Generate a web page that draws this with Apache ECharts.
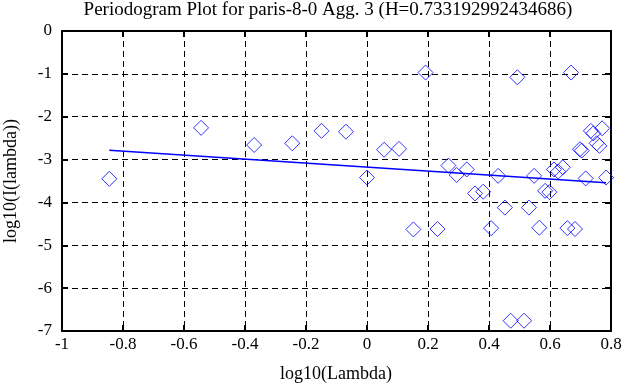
<!DOCTYPE html>
<html>
<head>
<meta charset="utf-8">
<script src="https://cdn.jsdelivr.net/npm/echarts@6/dist/echarts.min.js"></script>
<style>
html,body{margin:0;padding:0;background:#fff;}
#chart{width:638px;height:387px;}
</style>
</head>
<body>
<div id="chart"></div>
<script>
var titleText = 'Periodogram Plot for paris-8-0 Agg. 3 (H=0.733192992434686)';
var xName = 'log10(Lambda)';
var yName = 'log10(I(lambda))';

var pointX = [-0.845,-0.544,-0.370,-0.245,-0.149,-0.069,0.000,0.056,0.105,0.152,0.192,0.231,0.267,0.294,0.327,0.354,0.381,0.407,0.430,0.452,0.471,0.493,0.515,0.531,0.548,0.565,0.584,0.598,0.613,0.627,0.642,0.657,0.669,0.682,0.698,0.704,0.717,0.734,0.742,0.753,0.762,0.771,0.784];
var pointY = [-3.45,-2.26,-2.66,-2.62,-2.33,-2.35,-3.42,-2.77,-2.75,-4.63,-0.97,-4.62,-3.14,-3.36,-3.23,-3.79,-3.75,-4.60,-3.38,-4.12,-6.76,-1.08,-6.76,-4.12,-3.38,-4.59,-3.73,-3.76,-3.23,-3.28,-3.18,-4.60,-0.97,-4.62,-2.76,-2.79,-3.44,-2.33,-2.39,-2.62,-2.68,-2.27,-3.42];

var fitX = [-0.845, 0.784];
var fitY = [-2.78, -3.54];

var xMin = -1, xMax = 0.8, xStep = 0.2;
var yMin = -7, yMax = 0, yStep = 1;

var FONT = '"Liberation Serif","DejaVu Serif",serif';

var scatterData = pointX.map(function(x,i){return [x, pointY[i]];});
var lineData = fitX.map(function(x,i){return [x, fitY[i]];});

var chart = echarts.init(document.getElementById('chart'), null, {renderer:'canvas'});

function axisCommon(show){
  return {
    axisLine:{show:true, onZero:false, lineStyle:{color:'#000', width:2}},
    axisTick:{show:true, inside:true, length:6, lineStyle:{color:'#000', width:2}},
    axisLabel:{show:show, color:'#000', fontFamily:FONT, fontSize:17},
    splitLine:{show:false}
  };
}

var xBottom = Object.assign({type:'value', position:'bottom', min:xMin, max:xMax, interval:xStep}, axisCommon(true));
xBottom.axisLabel.margin = 5;
xBottom.axisLabel.formatter = function(v){ return Math.abs(v) < 1e-9 ? '0' : String(+v.toFixed(1)); };
xBottom.splitLine = {show:true, lineStyle:{color:'#000', type:[6,4], width:1}};
var xTop = Object.assign({type:'value', position:'top', min:xMin, max:xMax, interval:xStep}, axisCommon(false));

var yLeft = Object.assign({type:'value', position:'left', min:yMin, max:yMax, interval:yStep}, axisCommon(true));
yLeft.axisLabel.margin = 10;
yLeft.splitLine = {show:true, lineStyle:{color:'#000', type:[6,4], width:1}};
var yRight = Object.assign({type:'value', position:'right', min:yMin, max:yMax, interval:yStep}, axisCommon(false));

chart.setOption({
  backgroundColor:'#fff',
  animation:false,
  grid:{left:62, right:27, top:31, bottom:56, containLabel:false},
  xAxis:[xBottom, xTop],
  yAxis:[yLeft, yRight],
  graphic:[
    {type:'text', x:328, y:1, style:{text:titleText, fontFamily:FONT, fontSize:19, fill:'#000', align:'center', verticalAlign:'top'}},
    {type:'text', x:336, y:365, style:{text:xName, fontFamily:FONT, fontSize:18, fill:'#000', align:'center', verticalAlign:'top'}},
    {type:'text', x:2, y:181, rotation:Math.PI/2, style:{text:yName, fontFamily:FONT, fontSize:18, fill:'#000', align:'center', verticalAlign:'top'}}
  ],
  series:[
    {type:'scatter', xAxisIndex:0, yAxisIndex:0, data:scatterData, symbol:'diamond', symbolSize:15,
     itemStyle:{color:'rgba(0,0,0,0)', borderColor:'#0000ff', borderWidth:1}, z:3},
    {type:'line', xAxisIndex:0, yAxisIndex:0, data:lineData, showSymbol:false, symbol:'none',
     lineStyle:{color:'#0000ff', width:1.5}, z:4}
  ]
});
</script>
</body>
</html>
